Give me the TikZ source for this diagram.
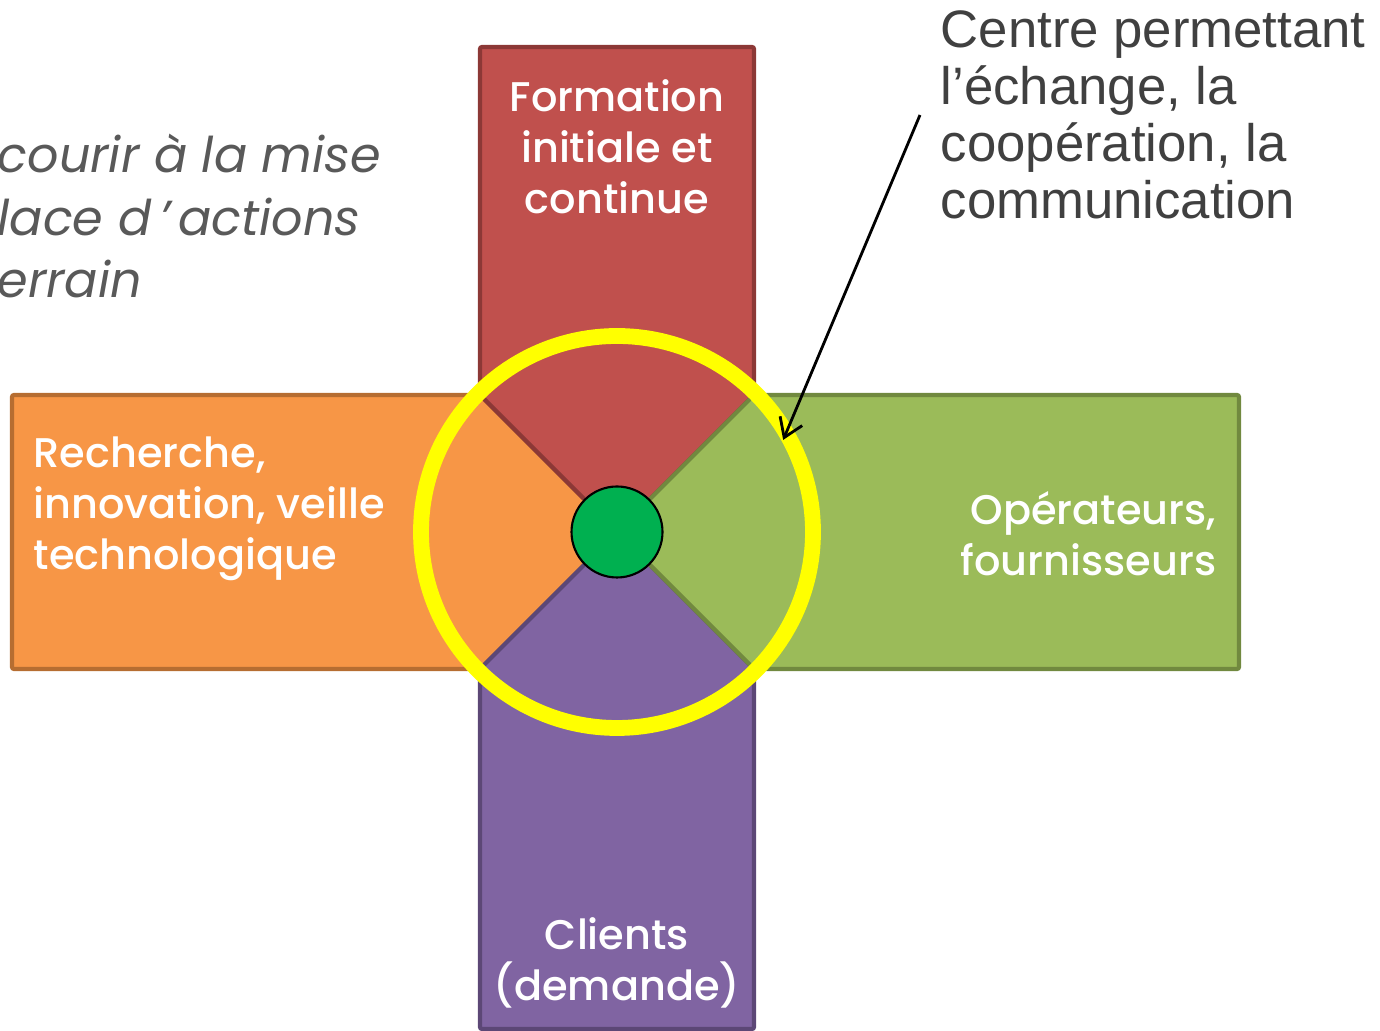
\documentclass[tikz,border=0pt]{standalone}
\usepackage{fontspec}
\setmainfont{Poppins}
\newfontfamily\armfont{Poppins Medium}
\newfontfamily\notefont{Liberation Sans}
\usetikzlibrary{arrows.meta}
\usetikzlibrary{positioning}
\usetikzlibrary{calc}

\definecolor{armred}{HTML}{C0504D}
\definecolor{armredline}{HTML}{8C3836}
\definecolor{armorange}{HTML}{F79646}
\definecolor{armorangeline}{HTML}{B66D31}
\definecolor{armgreen}{HTML}{9BBB59}
\definecolor{armgreenline}{HTML}{71893F}
\definecolor{armpurple}{HTML}{8064A2}
\definecolor{armpurpleline}{HTML}{5C4776}
\definecolor{hubgreen}{HTML}{00B050}
\definecolor{ringyellow}{HTML}{FFFF00}
\definecolor{missiongray}{HTML}{595959}
\definecolor{notegray}{HTML}{404040}

\tikzset{
  arm/.style={line width=1.2pt, rounded corners=0.6pt},
  armtext/.style={text=white, inner sep=0pt, font=\armfont\fontsize{11.8}{14.5}\selectfont}
}

\begin{document}
\begin{tikzpicture}
        \useasboundingbox (0,0) rectangle (13.8,10.31);
        \coordinate (C) at (6.17,4.99);
        \begin{scope}[arm]
        \draw[fill=armorange, draw=armorangeline] (C) -- (4.80,6.36) -- (0.12,6.36) -- (0.12,3.62) -- (4.80,3.62) -- cycle;
        \draw[fill=armred, draw=armredline] (C) -- (4.80,6.36) -- (4.80,9.84) -- (7.54,9.84) -- (7.54,6.36) -- cycle;
        \draw[fill=armpurple, draw=armpurpleline] (C) -- (4.80,3.62) -- (4.80,0.02) -- (7.54,0.02) -- (7.54,3.62) -- cycle;
        \draw[fill=armgreen, draw=armgreenline] (C) -- (7.54,6.36) -- (12.39,6.36) -- (12.39,3.62) -- (7.54,3.62) -- cycle;
        \end{scope}
        \node[circle, draw=ringyellow, line width=4.5pt, minimum size=3.92cm, inner sep=0pt] (ring) at (C) {};
        \node[circle, draw=black, fill=hubgreen, line width=0.6pt, minimum size=0.91cm, inner sep=0pt] (hub) at (C) {};
        \coordinate (tip) at ($(C)+(29:1.9)$);
        \begin{scope}[every node/.style={armtext}]
        \node[align=center] (formation) at (6.17,8.84) {Formation\\initiale et\\continue};
        \node[align=left, anchor=west] (recherche) at (0.33,5.22) {Recherche,\\innovation, veille\\technologique};
        \node[align=right, anchor=east] (operateurs) at (12.17,4.97) {Opérateurs,\\fournisseurs};
        \node[align=center] (clients) at (6.17,0.68) {Clients\\(demande)};
        \end{scope}
        \node[align=left, anchor=west, text=missiongray, inner sep=0pt, font=\itshape\fontsize{14}{17.9}\selectfont] (mission) at (-0.03,8.15) {courir à la mise\\lace d\,’\,actions\\errain};
        \node[align=left, anchor=west, text=notegray, inner sep=0.2cm, font=\notefont\fontsize{15}{16.2}\selectfont] (note) at (9.20,9.16) {Centre permettant\\l’échange, la\\coopération, la\\communication};
        \draw[line width=0.8pt, -{Straight Barb[length=1.8mm, width=2.4mm]}] (note.west) -- (tip);
\end{tikzpicture}
\end{document}
